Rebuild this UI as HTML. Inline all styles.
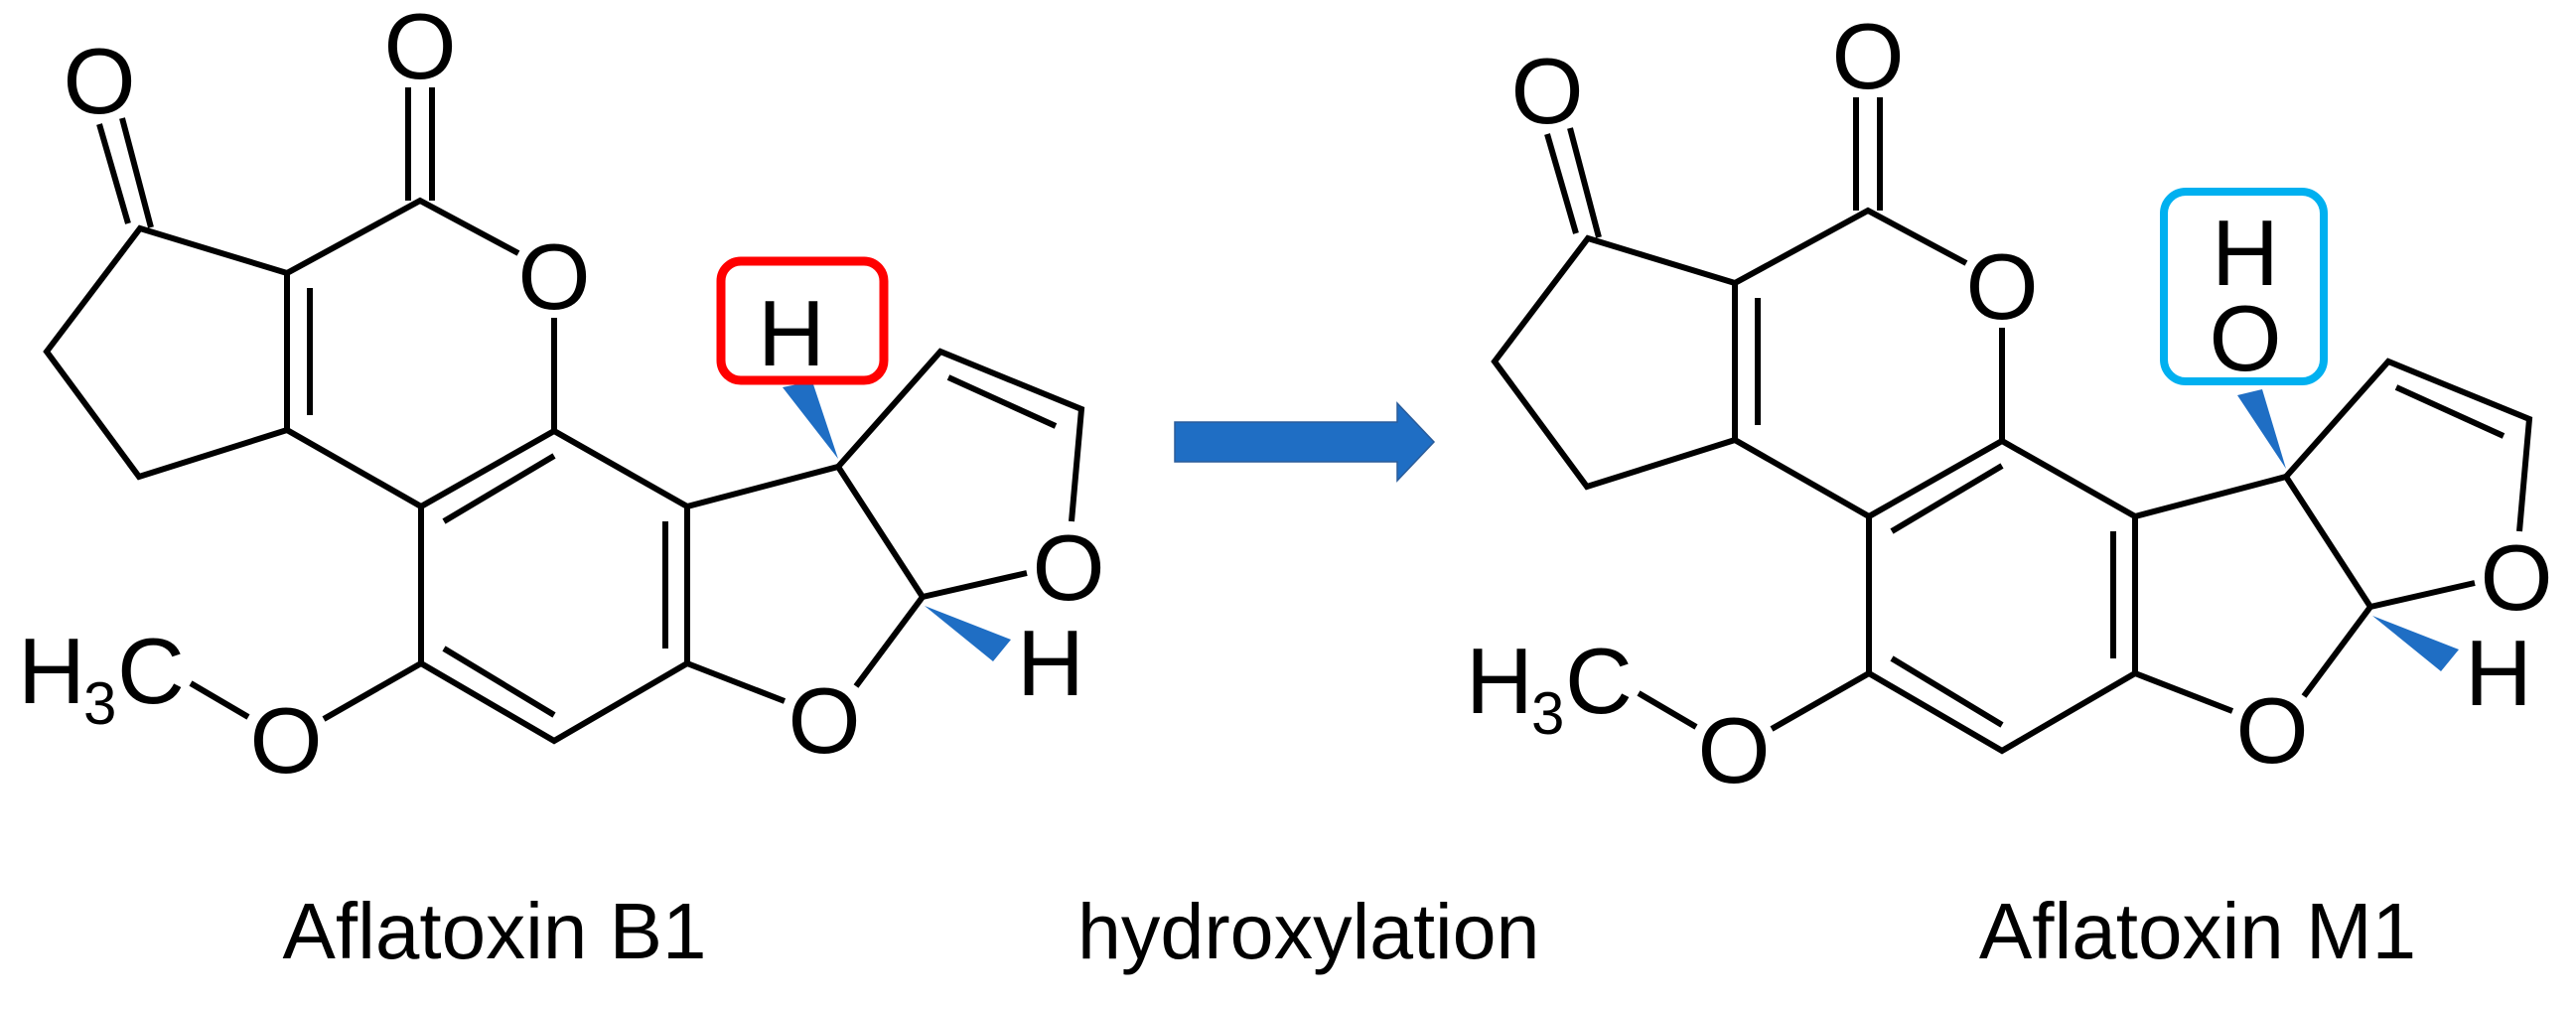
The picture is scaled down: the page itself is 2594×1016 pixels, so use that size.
<!DOCTYPE html>
<html><head><meta charset="utf-8"><style>
html,body{margin:0;padding:0;background:#fff;}
svg{display:block;}
text{font-family:"Liberation Sans",Arial,sans-serif;fill:#000;}
</style></head><body>
<svg width="2594" height="1016" viewBox="0 0 2594 1016" xmlns="http://www.w3.org/2000/svg">
<defs>
<g id="core" stroke="#000" stroke-width="6" fill="none" stroke-linecap="butt" stroke-linejoin="miter">
  <line x1="100" y1="125" x2="129" y2="225"/>
  <line x1="123" y1="119" x2="152" y2="229"/>
  <polyline points="289,275 141,230 47,354 140,480 289,433"/>
  <line x1="289" y1="275" x2="289" y2="433"/>
  <line x1="312" y1="290" x2="312" y2="418"/>
  <polyline points="289,275 423,202 522,255"/>
  <line x1="411" y1="88" x2="411" y2="202"/>
  <line x1="435" y1="88" x2="435" y2="202"/>
  <line x1="558" y1="320" x2="558" y2="434"/>
  <polyline points="289,433 424,510 558,434 692,510 692,668 558,746 424,668 424,510"/>
  <line x1="447" y1="525" x2="558" y2="459"/>
  <line x1="447" y1="653" x2="558" y2="720"/>
  <line x1="670" y1="525" x2="670" y2="653"/>
  <polyline points="692,510 844,470 929,601 862,691"/>
  <line x1="692" y1="668" x2="790" y2="706"/>
  <line x1="929" y1="601" x2="1034" y2="577"/>
  <polyline points="844,470 947,354 1089,412 1079,525"/>
  <line x1="955" y1="380" x2="1063" y2="429"/>
  <line x1="424" y1="668" x2="326" y2="724"/>
  <line x1="250" y1="722" x2="192" y2="688"/>
</g>
<g id="labels">
  <text x="100" y="114" font-size="94" text-anchor="middle">O</text>
  <text x="423" y="79" font-size="94" text-anchor="middle">O</text>
  <text x="558" y="311" font-size="94" text-anchor="middle">O</text>
  <text x="830" y="758" font-size="94" text-anchor="middle">O</text>
  <text x="1076" y="604" font-size="94" text-anchor="middle">O</text>
  <text x="288" y="778" font-size="94" text-anchor="middle">O</text>
  <text x="1058" y="700" font-size="94" text-anchor="middle">H</text>
  <text x="18" y="708" font-size="94">H</text>
  <text x="84" y="729" font-size="60">3</text>
  <text x="118" y="708" font-size="94">C</text>
  <polygon points="931,610 1018,644 1000,666" fill="#1F6EC4"/>
</g>
</defs>

<use href="#core"/>
<use href="#labels"/>
<polygon points="844,462 788,390 818,384" fill="#1F6EC4"/>
<rect x="726" y="263" width="164" height="120" rx="20" ry="20" fill="none" stroke="#FF0000" stroke-width="9"/>
<text x="797" y="368" font-size="94" text-anchor="middle">H</text>

<polygon points="1183,425 1407,425 1407,406 1444,445 1407,484 1407,465 1183,465" fill="#1F6EC4" stroke="#2A5C9A" stroke-width="1.5"/>

<g transform="translate(1458,10)">
  <use href="#core"/>
  <use href="#labels"/>
  <polygon points="844,462 795,388 820,382" fill="#1F6EC4"/>
  <rect x="721" y="183" width="161" height="191" rx="22" ry="22" fill="none" stroke="#00B0F0" stroke-width="8"/>
  <text x="803" y="277" font-size="94" text-anchor="middle">H</text>
  <text x="803" y="363" font-size="94" text-anchor="middle">O</text>
</g>

<text x="498" y="965" font-size="80" text-anchor="middle">Aflatoxin B1</text>
<text x="1085" y="965" font-size="79">hydroxylation</text>
<text x="2213" y="965" font-size="80" text-anchor="middle">Aflatoxin M1</text>
</svg>
</body></html>
